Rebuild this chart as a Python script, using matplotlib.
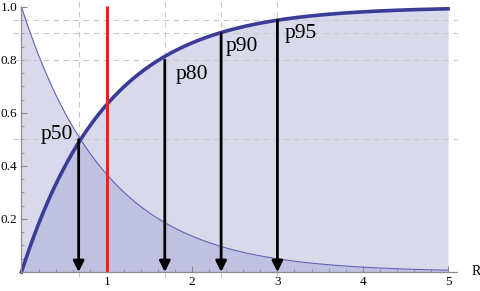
"""Exponential CDF / PDF with percentile markers (Mathematica-style look)."""

import matplotlib

matplotlib.use("Agg")
import matplotlib.pyplot as plt  # noqa: E402
import numpy as np  # noqa: E402
from matplotlib.ticker import FixedLocator  # noqa: E402

# model: exponential with unit rate, plotted over R in [0, 5]
RATE = 1.0
R_MAX = 5.0

# percentile arrows
pct_labels = ["p50", "p80", "p90", "p95"]
pct_x = [0.67, 1.68, 2.34, 3.0]
pct_y = [0.5, 0.8, 0.9, 0.95]
label_x = [0.23, 1.81, 2.39, 3.09]
label_y = [0.52, 0.745, 0.85, 0.9]

red_x = 1.0

x_ticks = [1, 2, 3, 4, 5]
y_ticks = [0.2, 0.4, 0.6, 0.8, 1.0]

CDF_C = "#3b3b98"
PDF_C = "#6262b8"
FILL_C = "#8e8ec8"
GRID_C = "#c8c8c8"
AXIS_C = "#8c8c8c"

plt.rcParams["font.family"] = ["Liberation Serif", "DejaVu Serif"]

fig = plt.figure(figsize=(4.8, 2.91), dpi=100)
ax = fig.add_axes([0, 0, 1, 1])
ax.set_xlim(-0.252, 5.375)
ax.set_ylim(-0.0717, 1.0264)

r = np.linspace(0, R_MAX, 400)
cdf = 1 - np.exp(-RATE * r)
pdf = RATE * np.exp(-RATE * r)

ax.fill_between(r, 0, cdf, color=FILL_C, alpha=0.33, lw=0, zorder=1)
ax.fill_between(r, 0, pdf, color=FILL_C, alpha=0.33, lw=0, zorder=1)

# dashed guide lines
for yv in pct_y:
    ax.plot([-0.1, 5.1], [yv, yv], color=GRID_C, lw=0.8, ls=(0, (5, 4)), zorder=2)
for xv in pct_x:
    ax.plot([xv, xv], [-0.02, 1.03], color=GRID_C, lw=0.8, ls=(0, (5, 4)), zorder=2)

ax.plot(r, pdf, color=PDF_C, lw=0.8, zorder=3)
ax.plot(r, cdf, color=CDF_C, lw=2.6, zorder=4)

ax.plot([red_x, red_x], [0, 1.005], color="#ff1a1a", lw=2.2, zorder=5, solid_capstyle="butt")

for xv, yv in zip(pct_x, pct_y):
    ax.annotate(
        "",
        xy=(xv, 0),
        xytext=(xv, yv),
        arrowprops=dict(arrowstyle="-|>", color="black", lw=2.0, mutation_scale=16,
                        shrinkA=0, shrinkB=0),
        zorder=6,
    )

for txt, xv, yv in zip(pct_labels, label_x, label_y):
    ax.text(xv, yv, txt, fontsize=15.5, va="center", ha="left", zorder=7)

# axes through the origin
for side in ("top", "right"):
    ax.spines[side].set_visible(False)
ax.spines["left"].set_position(("data", 0))
ax.spines["bottom"].set_position(("data", 0))
ax.spines["left"].set_bounds(0, 1)
ax.spines["bottom"].set_bounds(0, 5.1)
for side in ("left", "bottom"):
    ax.spines[side].set_color(AXIS_C)
    ax.spines[side].set_linewidth(0.9)
    ax.spines[side].set_zorder(8)

ax.set_xticks(x_ticks)
ax.set_xticklabels([str(v) for v in x_ticks])
ax.set_yticks(y_ticks)
ax.set_yticklabels([f"{v:.1f}" for v in y_ticks])
ax.xaxis.set_minor_locator(FixedLocator([i / 5 for i in range(1, 26)]))
ax.yaxis.set_minor_locator(FixedLocator([i / 20 for i in range(1, 20)]))
ax.tick_params(which="major", direction="in", length=4, width=0.8, color=AXIS_C,
               labelsize=9.5, pad=3)
ax.tick_params(which="minor", direction="in", length=2.2, width=0.6, color=AXIS_C)
ax.tick_params(axis="x", which="both", top=False)
ax.tick_params(axis="y", which="both", right=False)

ax.text(5.27, 0.0, "R", fontsize=10, va="center", ha="left")

fig.savefig("out.png", dpi=100)
